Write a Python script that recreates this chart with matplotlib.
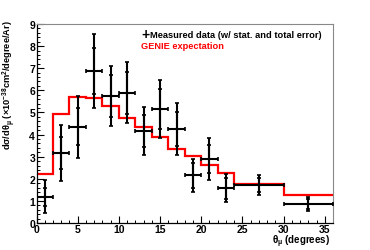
import matplotlib
matplotlib.use("Agg")
import matplotlib.pyplot as plt
import numpy as np

# Data
bin_edges = [0, 2, 4, 6, 8, 10, 12, 14, 16, 18, 20, 22, 24, 30, 36]
data_values = [1.18, 3.18, 4.36, 6.88, 5.73, 5.90, 4.15, 5.16, 4.25, 2.15, 2.90, 1.57, 1.72, 0.85]
total_err = [0.75, 1.27, 1.40, 1.67, 1.35, 1.37, 1.09, 1.30, 1.19, 0.75, 0.94, 0.64, 0.45, 0.32]
stat_err = [0.40, 0.72, 0.85, 1.03, 0.95, 0.95, 0.72, 0.90, 0.79, 0.57, 0.63, 0.47, 0.32, 0.23]
genie_values = [2.20, 4.95, 5.70, 5.67, 5.29, 4.77, 4.33, 3.88, 3.35, 3.05, 2.64, 2.25, 1.77, 1.25]

plt.rcParams['font.family'] = ['Liberation Sans', 'DejaVu Sans']
plt.rcParams['font.weight'] = 'bold'
plt.rcParams['mathtext.fontset'] = 'custom'
plt.rcParams['mathtext.rm'] = 'Liberation Sans:bold'
plt.rcParams['mathtext.it'] = 'Liberation Sans:bold'
plt.rcParams['mathtext.bf'] = 'Liberation Sans:bold'

fig = plt.figure(figsize=(3.70, 2.51), dpi=100)
ax = fig.add_axes([36.5/370, 1 - 224/251, (333 - 36.5)/370, (224 - 25)/251])

edges = np.array(bin_edges)
centers = (edges[:-1] + edges[1:]) / 2
halfw = (edges[1:] - edges[:-1]) / 2

ax.stairs(genie_values, edges, color='#ff0000', lw=1.6, baseline=None, zorder=2)

ax.errorbar(centers, data_values, xerr=halfw, yerr=total_err, fmt='none',
            ecolor='black', elinewidth=1.5, capsize=1.6, capthick=1.2, zorder=3)
ax.errorbar(centers, data_values, yerr=stat_err, fmt='none',
            ecolor='black', elinewidth=1.5, capsize=1.6, capthick=1.2, zorder=3)

ax.set_xlim(0, 36)
ax.set_ylim(0, 9)
ax.set_xticks([0, 5, 10, 15, 20, 25, 30, 35])
ax.set_xticks(np.arange(0, 37, 1), minor=True)
ax.set_yticks(np.arange(0, 10, 1))
ax.set_yticks(np.arange(0, 9.01, 0.2), minor=True)
ax.tick_params(axis='both', which='major', direction='in', length=5, width=0.8,
               labelsize=7.5, colors='black')
ax.tick_params(axis='x', which='major', pad=0.5)
ax.tick_params(axis='y', which='major', pad=1.0)
ax.tick_params(axis='both', which='minor', direction='in', length=2.5, width=0.7)
ax.tick_params(top=False, right=False, which='both')
for lab in ax.get_xticklabels() + ax.get_yticklabels():
    lab.set_fontweight('bold')

for s in ['top', 'right']:
    ax.spines[s].set_color('#888888')
    ax.spines[s].set_linewidth(0.8)
for s in ['left', 'bottom']:
    ax.spines[s].set_color('black')
    ax.spines[s].set_linewidth(0.9)

fig.text(9/370, 1 - 20/251, r'd$\sigma$/d$\theta_{\mu}$ (×10$^{-38}$cm$^{2}$/degree/Ar)',
         rotation=90, ha='center', va='top', fontsize=6.7, fontweight='bold')
fig.text(330/370, 1 - 234/251, r'$\theta_{\mu}$ (degrees)', ha='right', va='top',
         fontsize=7, fontweight='bold')

# legend
fig.text(145/370, 1 - 35/251, '+', ha='center', va='center', fontsize=10, fontweight='bold')
fig.text(150/370, 1 - 35/251, 'Measured data (w/ stat. and total error)', ha='left',
         va='center', fontsize=6.7, fontweight='bold')
fig.text(141/370, 1 - 46.5/251, 'GENIE expectation', ha='left', va='center',
         fontsize=6.7, fontweight='bold', color='#ff0000')

fig.savefig('out.png', dpi=100)
